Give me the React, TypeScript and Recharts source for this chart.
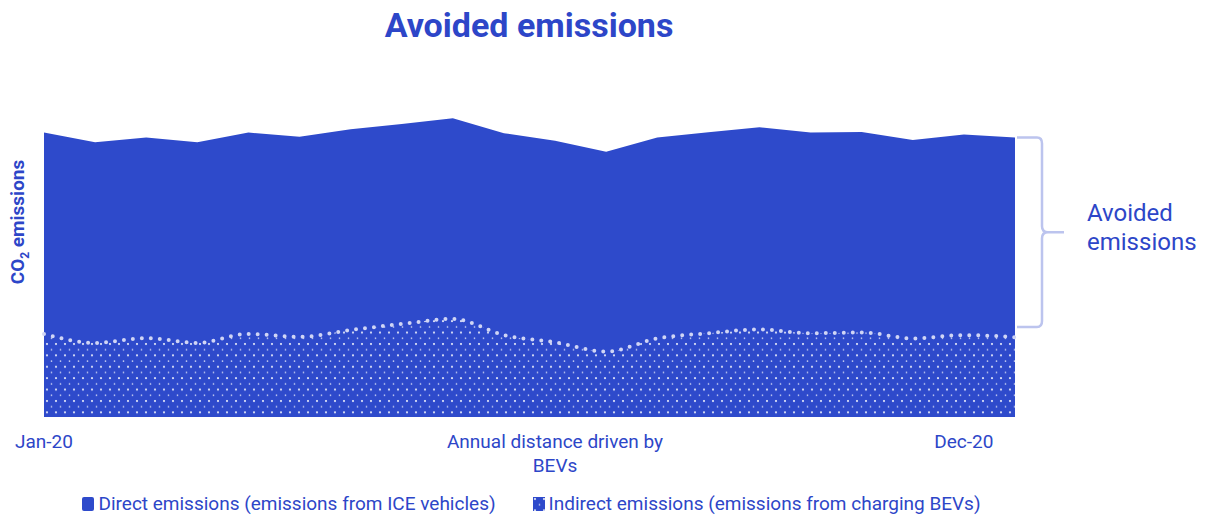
import React from 'react'
import { AreaChart, Area, XAxis, YAxis, ReferenceLine } from 'recharts'

// 20 sample points through the year
const categories = [
  'P01', 'P02', 'P03', 'P04', 'P05', 'P06', 'P07', 'P08', 'P09', 'P10',
  'P11', 'P12', 'P13', 'P14', 'P15', 'P16', 'P17', 'P18', 'P19', 'P20',
]
const directEmissions = [
  94.8, 91.6, 93.2, 91.6, 94.8, 93.4, 95.9, 97.7, 99.6, 94.6,
  92.1, 88.4, 93.2, 94.9, 96.6, 94.8, 95.0, 92.3, 94.2, 93.2,
]
const indirectEmissions = [
  27.7, 24.7, 26.3, 24.7, 27.7, 26.7, 29.0, 31.0, 32.7, 27.3,
  24.9, 21.8, 26.2, 27.9, 29.2, 27.9, 28.2, 26.2, 27.3, 26.6,
]
const tickCategories = ['P01', 'P11', 'P19']
const tickLabels = ['Jan-20', 'Annual distance driven by BEVs', 'Dec-20']
const braceBottom = 30

const BLUE = '#2e4acb'
const TEXT = '#2d46c8'
const LIGHT = '#bcc4ee'

const data = categories.map((c, i) => ({
  period: c,
  direct: directEmissions[i],
  indirect: indirectEmissions[i],
}))

const wrap = (s: string, max: number) => {
  if (s.length <= max) return [s]
  const cut = s.lastIndexOf(' ', max)
  return [s.slice(0, cut), s.slice(cut + 1)]
}

const AxisTick = ({ x, y, payload }: any) => {
  const i = tickCategories.indexOf(payload.value)
  if (i < 0) return null
  const lines = wrap(tickLabels[i], 26)
  return (
    <text x={x} y={y} textAnchor="middle" fill={TEXT} fontSize={19} fontFamily="Roboto">
      {lines.map((l, k) => (
        <tspan key={k} x={x} dy={k === 0 ? 23 : 24}>{l}</tspan>
      ))}
    </text>
  )
}

const Brace = ({ x1, y1, y2 }: any) => {
  const x = x1 + 2
  const top = Math.min(y1, y2)
  const bottom = Math.max(y1, y2)
  const mid = (top + bottom) / 2
  const d = `M ${x} ${top} L ${x + 20} ${top} Q ${x + 25} ${top} ${x + 25} ${top + 6}
    L ${x + 25} ${mid - 6} Q ${x + 25} ${mid} ${x + 31} ${mid} L ${x + 47} ${mid}
    M ${x + 31} ${mid} Q ${x + 25} ${mid} ${x + 25} ${mid + 6}
    L ${x + 25} ${bottom - 6} Q ${x + 25} ${bottom} ${x + 20} ${bottom} L ${x} ${bottom}`
  return (
    <g>
      <path d={d} fill="none" stroke={LIGHT} strokeWidth={2.5} />
      <text x={x + 70} y={mid} fill={TEXT} fontSize={24} fontFamily="Roboto">
        <tspan x={x + 70} dy={-11}>Avoided</tspan>
        <tspan x={x + 70} dy={29}>emissions</tspan>
      </text>
    </g>
  )
}

export default function App() {
  return (
    <div style={{ position: 'absolute', left: 0, top: 0, width: 1206, height: 515, fontFamily: 'Roboto', background: '#fff' }}>
      <div style={{ position: 'absolute', left: 0, width: 1058, top: 5, textAlign: 'center', fontSize: 34, lineHeight: '40px', fontWeight: 700, color: TEXT }}>
        Avoided emissions
      </div>
      <div style={{ position: 'absolute', left: 19, top: 222, transform: 'translate(-50%, -50%) rotate(-90deg)', whiteSpace: 'nowrap', fontSize: 19, fontWeight: 700, color: TEXT }}>
        CO<sub style={{ fontSize: 12 }}>2</sub> emissions
      </div>

      <AreaChart width={1206} height={515} data={data} margin={{ top: 117, right: 191, left: 44, bottom: 68 }}>
        <defs>
          <pattern id="dotFill" width={9} height={11.4} patternUnits="userSpaceOnUse">
            <rect width={9} height={11.4} fill={BLUE} />
            <circle cx={2} cy={2} r={1.1} fill="#ffffff" fillOpacity={0.9} />
            <circle cx={6.5} cy={7.7} r={0.85} fill="#ffffff" fillOpacity={0.75} />
          </pattern>
        </defs>
        <XAxis
          dataKey="period"
          ticks={tickCategories}
          interval={0}
          height={30}
          axisLine={false}
          tickLine={false}
          tick={<AxisTick />}
        />
        <YAxis hide domain={[0, 100]} />
        <Area
          type="linear"
          dataKey="direct"
          stroke="none"
          fill={BLUE}
          fillOpacity={1}
          isAnimationActive={false}
        />
        <Area
          type="monotone"
          dataKey="indirect"
          stroke="#d0d5f5"
          strokeWidth={4}
          strokeDasharray="0 9"
          strokeLinecap="round"
          fill="url(#dotFill)"
          fillOpacity={1}
          isAnimationActive={false}
        />
        <ReferenceLine
          segment={[
            { x: categories[categories.length - 1], y: directEmissions[directEmissions.length - 1] },
            { x: categories[categories.length - 1], y: braceBottom },
          ]}
          ifOverflow="visible"
          shape={<Brace />}
        />
      </AreaChart>

      <div style={{ position: 'absolute', left: 0, width: 1063, top: 492, display: 'flex', justifyContent: 'center', gap: 37, fontSize: 19, color: TEXT, lineHeight: '24px' }}>
        <div style={{ display: 'flex', alignItems: 'center', gap: 4 }}>
          <span style={{ display: 'inline-block', width: 12, height: 14, background: BLUE, borderRadius: 2 }} />
          Direct emissions (emissions from ICE vehicles)
        </div>
        <div style={{ display: 'flex', alignItems: 'center', gap: 4 }}>
          <svg width={12} height={14}>
            <rect width={12} height={14} fill="url(#dotFill)" />
          </svg>
          Indirect emissions (emissions from charging BEVs)
        </div>
      </div>
    </div>
  )
}
